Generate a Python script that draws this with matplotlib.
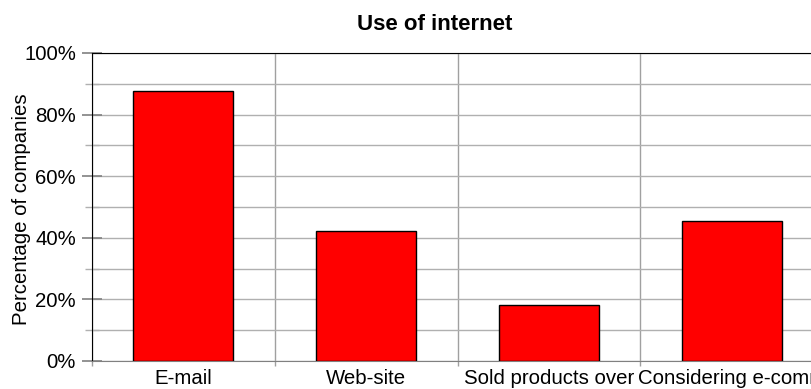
import matplotlib
matplotlib.use("Agg")
import matplotlib.pyplot as plt
from matplotlib.ticker import MultipleLocator, PercentFormatter

categories = ["E-mail", "Web-site", "Sold products over", "Considering e-comm"]
share = [87.8, 42.3, 18.2, 45.5]

plt.rcParams["font.family"] = ["Liberation Sans", "DejaVu Sans"]

fig = plt.figure(figsize=(8.12, 3.89), dpi=100)
ax = fig.add_axes([0.1133, 0.072, 0.9003, 0.7918])

x = range(len(categories))
ax.bar(x, share, width=0.547, color="#ff0000", edgecolor="black", linewidth=1, zorder=3)

ax.set_xlim(-0.5, len(categories) - 0.5)
ax.set_ylim(0, 100)

# y axis: labelled every 20 %, grid every 10 %
ax.yaxis.set_major_locator(MultipleLocator(20))
ax.yaxis.set_minor_locator(MultipleLocator(10))
ax.yaxis.set_major_formatter(PercentFormatter(decimals=0))
ax.grid(axis="y", which="both", color="#b0b0b0", linewidth=1, zorder=0)
ax.tick_params(axis="y", which="major", direction="inout", length=15, width=1.2,
               color="#808080", labelsize=14.7, pad=4)
ax.tick_params(axis="y", which="minor", direction="inout", length=10, width=1,
               color="#b0b0b0")

# x axis: grid lines sit on the category boundaries
ax.set_xticks([i + 0.5 for i in range(-1, len(categories))], minor=True)
ax.set_xticks(list(x))
ax.set_xticklabels(categories)
ax.grid(axis="x", which="minor", color="#a0a0a0", linewidth=1, zorder=0)
ax.tick_params(axis="x", which="major", length=0, labelsize=14.7, pad=5.5)
ax.tick_params(axis="x", which="minor", direction="out", length=3.6, width=1,
               color="#a0a0a0")

ax.spines["left"].set_color("black")
ax.spines["top"].set_color("black")
ax.spines["bottom"].set_color("#808080")
ax.spines["right"].set_visible(False)

ax.set_ylabel("Percentage of companies", fontsize=14.7)
ax.yaxis.set_label_coords(-0.0834, 0.494)
fig.text(0.5357, 0.923, "Use of internet", ha="center", va="baseline",
         fontsize=16, fontweight="bold")

fig.savefig("out.png", dpi=100)
